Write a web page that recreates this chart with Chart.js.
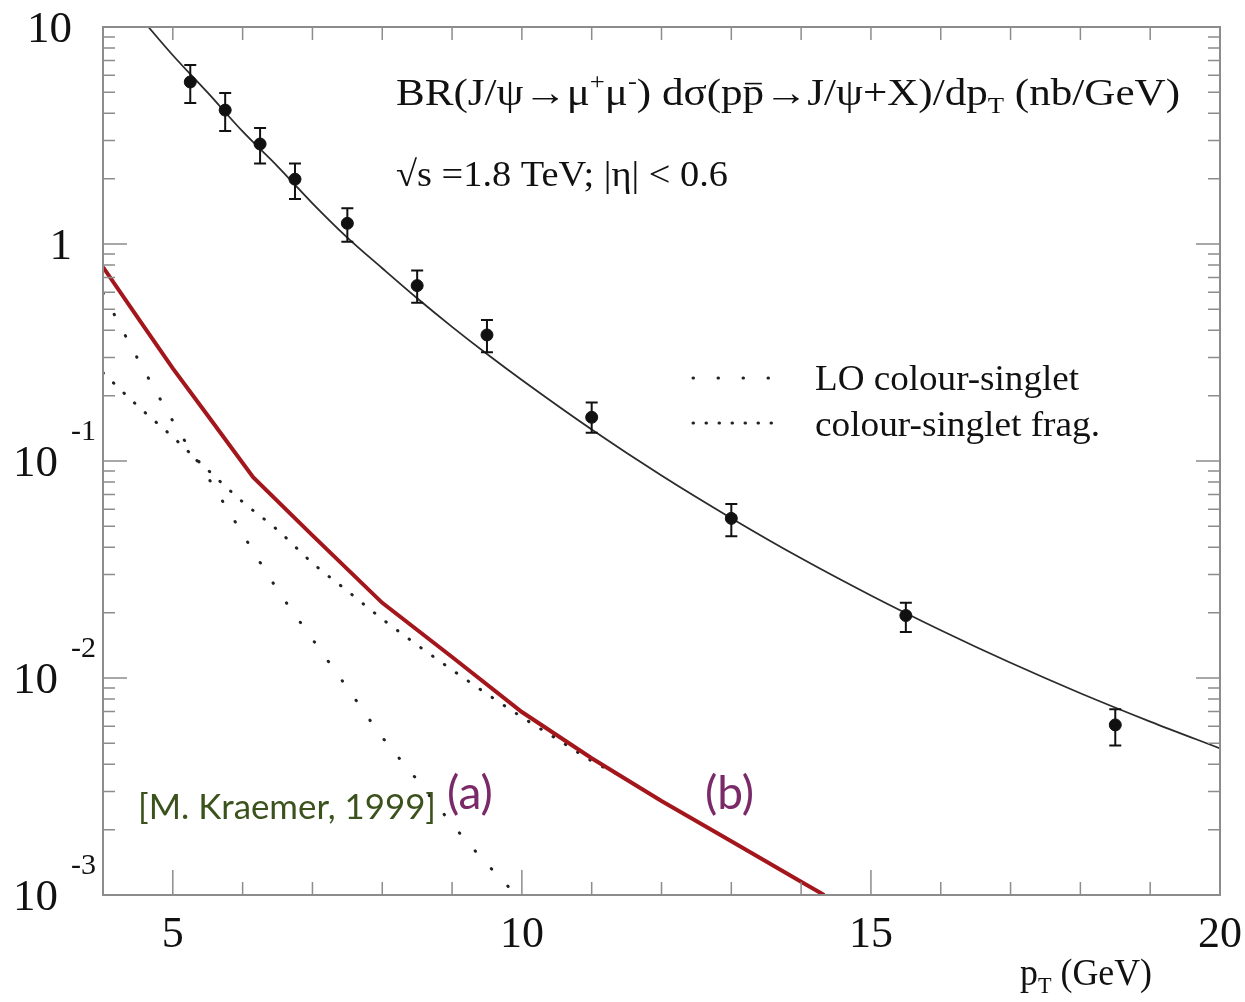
<!DOCTYPE html>
<html>
<head>
<meta charset="utf-8">
<script src="https://cdn.jsdelivr.net/npm/chart.js@4.4.1/dist/chart.umd.min.js"></script>
<style>
html, body { margin: 0; padding: 0; background: #fff; }
</style>
</head>
<body>
<canvas id="chart" width="1245" height="1002"></canvas>
<script>
// CDF J/psi data points (pT in GeV, cross section in nb/GeV)
const ptData = [5.25, 5.75, 6.25, 6.75, 7.5, 8.5, 9.5, 11, 13, 15.5, 18.5];
const sigmaData = [5.58, 4.14, 2.89, 1.99, 1.245, 0.643, 0.381, 0.159, 0.0544, 0.0194, 0.00608];
const errHigh = [6.68, 4.96, 3.42, 2.35, 1.46, 0.754, 0.447, 0.186, 0.0633, 0.0222, 0.00718];
const errLow = [4.47, 3.32, 2.35, 1.61, 1.025, 0.536, 0.317, 0.135, 0.0450, 0.0163, 0.00488];

// smooth fit through the data
const fitPt = [4.65, 5, 5.5, 6, 6.5, 7, 7.5, 8, 8.5, 9, 9.5, 10, 11, 12, 13, 14, 15, 16, 17, 18, 19, 20];
const fitVal = [10, 7.41, 4.98, 3.30, 2.28, 1.54, 1.07, 0.773, 0.562, 0.415, 0.311, 0.236, 0.1396, 0.0857, 0.0545, 0.0356, 0.0240, 0.0166, 0.01175, 0.00851, 0.00630, 0.00474];

// red curve (b)
const totPt = [4, 4.5, 5, 5.5, 6.15, 7, 8, 9, 10, 11, 12, 13, 14, 14.33];
const totVal = [0.783, 0.457, 0.267, 0.162, 0.0843, 0.0454, 0.0222, 0.0125, 0.00697, 0.00427, 0.00271, 0.00177, 0.00115, 0.001];

// LO colour-singlet (a)
const loPt = [4, 4.5, 5, 5.35, 5.5, 6, 6.5, 7, 7.5, 8, 8.5, 9, 9.5, 9.92];
const loVal = [0.594, 0.295, 0.153, 0.1, 0.0843, 0.0461, 0.0255, 0.0151, 0.0090, 0.00534, 0.00339, 0.00212, 0.00139, 0.001];

// colour-singlet fragmentation
const fragPt = [4, 4.5, 5, 5.5, 6, 6.5, 7, 7.5, 8, 8.5, 9, 9.5, 10, 10.5, 11, 11.5];
const fragVal = [0.255, 0.179, 0.129, 0.091, 0.0648, 0.0481, 0.0339, 0.0252, 0.0187, 0.0142, 0.0109, 0.00844, 0.0066, 0.00524, 0.00415, 0.00343];

// axis ticks
const xTickLabels = [5, 10, 15, 20];
const xMinorTicks = [5, 6, 7, 8, 9, 10, 11, 12, 13, 14, 15, 16, 17, 18, 19];
const yDecades = [10, 1, 0.1, 0.01, 0.001];
const yTickBase = ['10', '1', '10', '10', '10'];
const yTickExp = ['', '', '-1', '-2', '-3'];

const SERIF = '"Liberation Serif", "Times New Roman", serif';
const SANS = 'Lato, "Open Sans", sans-serif';

function pts(xs, ys) {
  return xs.map((v, i) => ({x: v, y: ys[i]}));
}

// text with sup/sub/bar pieces, stretched sideways to a target width
function richText(ctx, parts, x, y, size, family, width) {
  const info = parts.map(([t, kind]) => {
    let fs = size, dy = 0;
    if (kind === 'sup') { fs = size * 0.62; dy = -size * 0.42; }
    if (kind === 'sub') { fs = size * 0.62; dy = size * 0.22; }
    ctx.font = fs + 'px ' + family;
    return { t, kind, fs, dy, w: ctx.measureText(t).width };
  });
  const total = info.reduce((s, p) => s + p.w, 0);
  const k = width ? width / total : 1;
  ctx.save();
  ctx.translate(x, y);
  ctx.scale(k, 1);
  let cx = 0;
  info.forEach(p => {
    ctx.font = p.fs + 'px ' + family;
    ctx.fillText(p.t, cx, p.dy);
    if (p.kind === 'bar') {
      ctx.fillRect(cx + 2, -size * 0.6, p.w - 4, 1.6);
    }
    cx += p.w;
  });
  ctx.restore();
}

const errorBars = {
  id: 'errorBars',
  afterDatasetsDraw(chart) {
    const ctx = chart.ctx;
    const x = chart.scales.x, y = chart.scales.y;
    ctx.save();
    ctx.strokeStyle = '#111';
    ctx.lineWidth = 2;
    ptData.forEach((p, i) => {
      const px = x.getPixelForValue(p);
      const y1 = y.getPixelForValue(errHigh[i]);
      const y2 = y.getPixelForValue(errLow[i]);
      ctx.beginPath();
      ctx.moveTo(px, y1); ctx.lineTo(px, y2);
      ctx.moveTo(px - 6, y1); ctx.lineTo(px + 6, y1);
      ctx.moveTo(px - 6, y2); ctx.lineTo(px + 6, y2);
      ctx.stroke();
    });
    ctx.restore();
  }
};

const frame = {
  id: 'frame',
  afterDraw(chart) {
    const ctx = chart.ctx;
    const a = chart.chartArea;
    const x = chart.scales.x, y = chart.scales.y;
    ctx.save();
    ctx.strokeStyle = '#8c8c8c';
    ctx.lineWidth = 2;
    ctx.strokeRect(a.left, a.top, a.right - a.left, a.bottom - a.top);
    ctx.lineWidth = 1.5;
    ctx.beginPath();
    xMinorTicks.forEach(v => {
      const px = x.getPixelForValue(v);
      const len = xTickLabels.includes(v) ? 25 : 13;
      ctx.moveTo(px, a.bottom); ctx.lineTo(px, a.bottom - len);
      ctx.moveTo(px, a.top); ctx.lineTo(px, a.top + 13);
    });
    yDecades.forEach(d => {
      const py = y.getPixelForValue(d);
      ctx.moveTo(a.left, py); ctx.lineTo(a.left + 24, py);
      ctx.moveTo(a.right, py); ctx.lineTo(a.right - 24, py);
      if (d < 10) {
        for (let m = 2; m <= 9; m++) {
          const pm = y.getPixelForValue(d * m);
          ctx.moveTo(a.left, pm); ctx.lineTo(a.left + 12, pm);
          ctx.moveTo(a.right, pm); ctx.lineTo(a.right - 12, pm);
        }
      }
    });
    ctx.stroke();

    // y labels 10^n
    ctx.fillStyle = '#111';
    ctx.textBaseline = 'alphabetic';
    yDecades.forEach((d, i) => {
      const py = y.getPixelForValue(d);
      ctx.font = '45px ' + SERIF;
      ctx.textAlign = 'right';
      if (yTickExp[i] === '') {
        ctx.fillText(yTickBase[i], 72, py + 15);
      } else {
        ctx.fillText(yTickBase[i], 58, py + 15);
        ctx.font = '30px ' + SERIF;
        ctx.textAlign = 'left';
        ctx.fillText(yTickExp[i], 71, py - 21);
      }
    });

    ctx.textAlign = 'left';
    // axis title
    richText(ctx, [['p', ''], ['T', 'sub'], [' (GeV)', '']], 1020, 985, 37, SERIF, 132);

    // header text
    richText(ctx, [['BR(J/ψ→μ', ''], ['+', 'sup'], ['μ', ''], ['-', 'sup'], [') dσ(p', ''], ['p', 'bar'],
      ['→J/ψ+X)/dp', ''], ['T', 'sub'], [' (nb/GeV)', '']], 396, 105, 37, SERIF, 784);
    richText(ctx, [['√s =1.8 TeV; |η| < 0.6', '']], 396, 186, 36, SERIF, 332);

    // legend
    richText(ctx, [['LO colour-singlet', '']], 815, 390, 36, SERIF, 264);
    richText(ctx, [['colour-singlet frag.', '']], 815, 436, 36, SERIF, 285);
    ctx.strokeStyle = '#222';
    ctx.lineWidth = 3;
    ctx.lineCap = 'round';
    ctx.setLineDash([0.5, 24.5]);
    ctx.beginPath(); ctx.moveTo(693, 378); ctx.lineTo(770, 378); ctx.stroke();
    ctx.setLineDash([0.5, 12.5]);
    ctx.beginPath(); ctx.moveTo(693, 423); ctx.lineTo(783, 423); ctx.stroke();
    ctx.setLineDash([]);

    // annotations
    ctx.fillStyle = '#3b521d';
    richText(ctx, [['[M. Kraemer, 1999]', '']], 138, 819, 35, SANS, 298);
    ctx.fillStyle = '#7a2a68';
    ctx.font = '46px ' + SANS;
    ctx.fillText('(a)', 447, 809);
    ctx.fillText('(b)', 705, 809);
    ctx.restore();
  }
};

new Chart(document.getElementById('chart'), {
  type: 'scatter',
  data: {
    datasets: [
      {
        label: 'CDF data',
        data: pts(ptData, sigmaData),
        showLine: false,
        pointRadius: 6,
        backgroundColor: '#111',
        borderColor: '#111',
        order: 0
      },
      {
        label: 'fit',
        data: pts(fitPt, fitVal),
        showLine: true,
        pointRadius: 0,
        borderColor: '#2b2b2b',
        borderWidth: 1.8,
        cubicInterpolationMode: 'monotone',
        order: 1
      },
      {
        label: 'total',
        data: pts(totPt, totVal),
        showLine: true,
        pointRadius: 0,
        borderColor: '#a3161b',
        borderWidth: 4,
        order: 2
      },
      {
        label: 'LO colour-singlet',
        data: pts(loPt, loVal),
        showLine: true,
        pointRadius: 0,
        borderColor: '#222',
        borderWidth: 3,
        borderCapStyle: 'round',
        borderDash: [0.5, 23.5],
        cubicInterpolationMode: 'monotone',
        order: 3
      },
      {
        label: 'colour-singlet frag.',
        data: pts(fragPt, fragVal),
        showLine: true,
        pointRadius: 0,
        borderColor: '#222',
        borderWidth: 3,
        borderCapStyle: 'round',
        borderDash: [0.5, 14],
        cubicInterpolationMode: 'monotone',
        order: 4
      }
    ]
  },
  options: {
    responsive: false,
    animation: false,
    layout: { padding: { top: 27, right: 25, left: 0, bottom: 0 } },
    plugins: { legend: { display: false }, tooltip: { enabled: false } },
    scales: {
      x: {
        type: 'linear',
        min: 4,
        max: 20,
        grid: { display: false, drawTicks: false },
        border: { display: false },
        afterBuildTicks: s => { s.ticks = xTickLabels.map(v => ({ value: v })); },
        afterFit: s => { s.height = 107; s.paddingLeft = 0; s.paddingRight = 0; },
        ticks: { font: { family: SERIF, size: 44 }, color: '#111', padding: 14, maxRotation: 0, autoSkip: false }
      },
      y: {
        type: 'logarithmic',
        min: 0.001,
        max: 10,
        grid: { display: false },
        border: { display: false },
        ticks: { display: false },
        afterFit: s => { s.width = 103; }
      }
    }
  },
  plugins: [errorBars, frame]
});
</script>
</body>
</html>
